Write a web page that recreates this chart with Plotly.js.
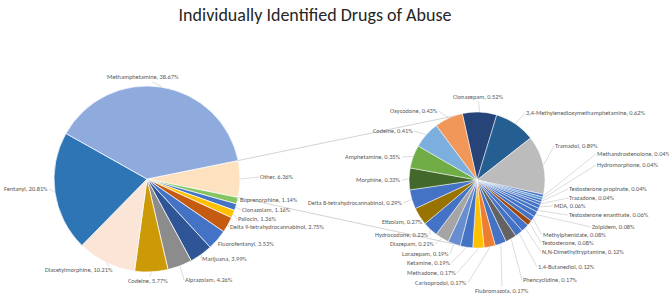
<!DOCTYPE html>
<html><head><meta charset="utf-8">
<script src="https://cdn.plot.ly/plotly-3.0.1.min.js"></script>
<style>html,body{margin:0;padding:0;background:#fff}#chart{width:669px;height:304px}</style>
</head><body><div id="chart"></div>
<script>
// Main pie (clockwise, starting with "Other")
const mainLabels = ['Other','Buprenorphine','Clonazolam','Psilocin','Delta 9-tetrahydrocannabinol','Fluorofentanyl','Marijuana','Alprazolam','Codeine','Diacetylmorphine','Fentanyl','Methamphetamine'];
const mainValues = [6.36,1.14,1.16,1.36,2.75,3.53,3.99,4.26,5.77,10.21,20.81,38.67];
const mainColors = ['#fee2c0','#84c561','#4472c4','#ffc000','#c55a11','#4472c4','#2f5597','#8c8c8c','#cc9a06','#fbe5d6','#2e75b6','#8faadc'];

// Secondary pie (breakdown of "Other"), clockwise from the top
const otherLabels = ['Clonazepam','3,4-Methylenedioxymethamphetamine','Tramadol','Methandrostenolone','Hydromorphone','Testosterone propinate','Trazadone','MDA','Testosterone enanthate','Zolpidem','Methylphenidate','Testosterone','N,N-Dimethyltryptamine','1,4-Butanediol','Phencyclidine','Flubromazola','Carisoprodol','Methadone','Ketamine','Lorazepam','Diazepam','Hydrocodone','Etizolam','Delta 8-tetrahydrocannabinol','Morphine','Amphetamine','Codeine','Oxycodone'];
const otherValues = [0.52,0.62,0.89,0.04,0.04,0.04,0.04,0.06,0.06,0.08,0.08,0.08,0.12,0.12,0.17,0.17,0.17,0.17,0.19,0.19,0.21,0.23,0.27,0.29,0.33,0.35,0.41,0.43];
const otherColors = ['#264478','#255e91','#bcbcbc','#4472c4','#5b9bd5','#4472c4','#4472c4','#4472c4','#4472c4','#4472c4','#4472c4','#9e480e','#4472c4','#4472c4','#636363','#4472c4','#ed7d31','#ffc000','#4472c4','#698ed0','#a5a5a5','#4472c4','#997300','#4472c4','#43682b','#70ad47','#7cafdd','#f1975a'];

// ---- layout (pixel positions of pies and data labels) ----
const W = 669, H = 304;
const c1 = {x:147, y:179, r:93};
const c2 = {x:477, y:180, r:68};
const rot2 = -12.5;
const mainLabelPos = [[259,177,'left'],[239,200,'left'],[241,210,'left'],[237,219,'left'],[229,227,'left'],[217,244,'left'],[201,259,'left'],[184,280,'left'],[148,281,'center'],[114,270,'right'],[49,189,'right'],[143,77,'center']];
const otherLabelPos = [[478,97,'center'],[525,113,'left'],[554,146,'left'],[596,154,'left'],[596,165,'left'],[568,189,'left'],[568,198,'left'],[553,206,'left'],[568,215,'left'],[591,227,'left'],[542,235,'left'],[541,243,'left'],[541,252,'left'],[537,267,'left'],[522,280,'left'],[502,291,'center'],[468,283,'right'],[457,273,'right'],[451,263,'right'],[450,254,'right'],[435,244,'right'],[430,235,'right'],[424,222,'right'],[403,203,'right'],[402,180,'right'],[402,157,'right'],[414,131,'right'],[439,111,'right']];

const fmt = (l, v) => l + ', ' + v.toFixed(2) + '%';
const sum = a => a.reduce((p,q)=>p+q,0);
const mainTotal = sum(mainValues);
const otherShare = mainValues[0] / mainTotal * 360;
const rot1 = 90 - otherShare/2;

function dom(c){ return {x:[(c.x-c.r)/W,(c.x+c.r)/W], y:[1-(c.y+c.r)/H,1-(c.y-c.r)/H]}; }
function pt(c, deg, extra){ const a = deg*Math.PI/180, r = c.r + (extra||0); return [c.x + r*Math.sin(a), c.y - r*Math.cos(a)]; }

const fontFam = 'Carlito, "Liberation Sans Narrow", Lato, sans-serif';
const labelFont = {family:fontFam, size:6.3, color:'#595959'};

const traces = [
  {type:'pie', labels:mainLabels, values:mainValues, sort:false, direction:'clockwise', rotation:rot1,
   marker:{colors:mainColors, line:{color:'#ffffff', width:0.7}}, textinfo:'none',
   domain:dom(c1), hoverinfo:'label+value', showlegend:false, automargin:false},
  {type:'pie', labels:otherLabels, values:otherValues, sort:false, direction:'clockwise', rotation:rot2,
   marker:{colors:otherColors, line:{color:'#ffffff', width:0.5}}, textinfo:'none',
   domain:dom(c2), hoverinfo:'label+value', showlegend:false, automargin:false}
];

// data labels with leader lines, anchored at each slice's mid-angle
function labelAnns(labels, values, c, rot, pos){
  const tot = sum(values); let acc = 0; const out = [];
  values.forEach((v,i) => {
    const mid = rot + (acc + v/2) / tot * 360; acc += v;
    const head = pt(c, mid, 0.5);
    const [lx, ly, anc] = pos[i];
    out.push({xref:'paper', yref:'paper', x:head[0]/W, y:1-head[1]/H,
      ax:lx-head[0], ay:ly-head[1], axref:'pixel', ayref:'pixel',
      text:fmt(labels[i], v), font:labelFont, xanchor:anc, yanchor:'middle',
      showarrow:true, arrowhead:0, arrowwidth:0.6, arrowcolor:'#c4c4c4', standoff:0, borderpad:0});
  });
  return out;
}
const annotations = labelAnns(mainLabels, mainValues, c1, rot1, mainLabelPos)
  .concat(labelAnns(otherLabels, otherValues, c2, rot2, otherLabelPos));

// connector lines from the edges of the "Other" slice to the secondary pie
const a1 = pt(c1, rot1), a2 = pt(c1, rot1 + otherShare);
const b1 = pt(c2, -20), b2 = pt(c2, 200);
const shapes = [[a1,b1],[a2,b2]].map(([p,q]) => ({type:'line', xref:'paper', yref:'paper',
  x0:p[0]/W, y0:1-p[1]/H, x1:q[0]/W, y1:1-q[1]/H, line:{color:'#c8c8c8', width:0.8}}));

const layout = {
  width:W, height:H, margin:{l:0,r:0,t:0,b:0}, paper_bgcolor:'#ffffff',
  title:{text:'Individually Identified Drugs of Abuse', x:315/W, xanchor:'center', y:1-15/H, yanchor:'middle',
    font:{family:fontFam, size:18, color:'#262626'}},
  shapes:shapes, annotations:annotations, showlegend:false
};
Plotly.newPlot('chart', traces, layout, {displayModeBar:false, staticPlot:true});
</script></body></html>
